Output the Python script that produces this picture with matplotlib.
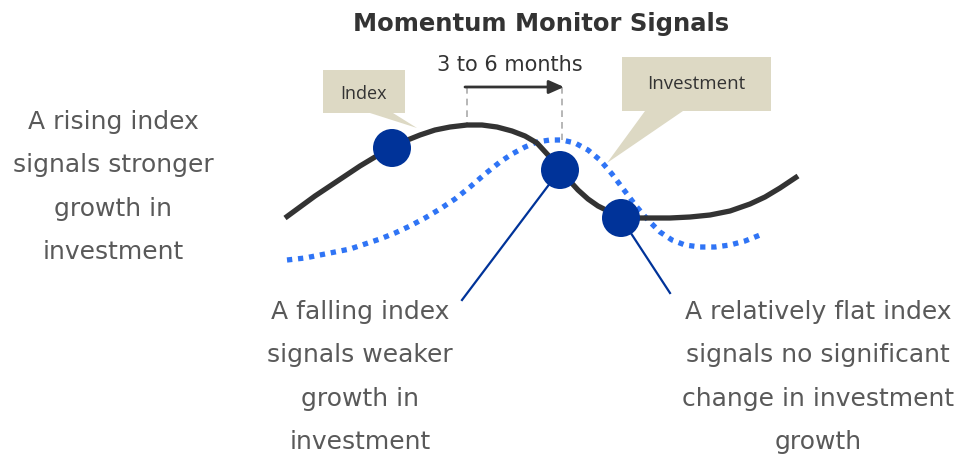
import matplotlib
matplotlib.use("Agg")
import matplotlib.pyplot as plt
from matplotlib.patches import Polygon, Circle

# curve shapes (pixel space, y down)
index_x = [285, 300, 315, 330, 345, 360, 375, 392, 405, 420, 435, 450, 467, 482, 497, 512, 525, 537,
           548, 558, 568, 578, 588, 598, 610, 621, 635, 650, 670, 690, 710, 730, 750, 765, 780, 798]
index_y = [218, 207, 196, 186, 176, 166, 157, 148, 141, 135, 130, 127, 125, 125, 127, 131, 136, 143,
           155, 167, 179, 190, 199, 206, 212, 216, 218, 218, 218, 217, 215, 211, 204, 197, 188, 176]
invest_x = [287, 305, 320, 335, 350, 365, 380, 395, 410, 425, 440, 455, 470, 485, 500, 512, 525, 537,
            550, 562, 575, 588, 600, 612, 624, 636, 648, 660, 672, 685, 700, 715, 730, 745, 760]
invest_y = [260, 258, 255, 252, 249, 244, 239, 233, 226, 218, 209, 199, 187, 174, 162, 154, 147, 142,
            140, 140, 143, 150, 160, 174, 190, 206, 220, 232, 240, 245, 247, 247, 245, 241, 235]

signal_x = [392, 560, 621]
signal_y = [148, 170, 218]

title = "Momentum Monitor Signals"
lag_label = "3 to 6 months"
left_text = "A rising index\nsignals stronger\ngrowth in\ninvestment"
mid_text = "A falling index\nsignals weaker\ngrowth in\ninvestment"
right_text = "A relatively flat index\nsignals no significant\nchange in investment\ngrowth"

GRAY = "#595959"
DARK = "#333333"
NAVY = "#003399"
BLUE = "#2F74F5"
BEIGE = "#DDD9C4"

fig = plt.figure(figsize=(9.61, 4.55), dpi=100)
ax = fig.add_axes([0, 0, 1, 1])
ax.set_xlim(0, 961)
ax.set_ylim(455, 0)
ax.axis("off")

ax.text(541, 24, title, ha="center", va="center", fontsize=17.5, fontweight="bold", color=DARK)

# callouts
ax.add_patch(Polygon([(323, 70), (405, 70), (405, 113), (393, 113), (417, 128), (370, 113), (323, 113)],
                     closed=True, facecolor=BEIGE, edgecolor="none", zorder=1))
ax.text(364, 94, "Index", ha="center", va="center", fontsize=13, color=DARK, family="Open Sans")
ax.add_patch(Polygon([(622, 57), (771, 57), (771, 111), (683, 111), (607, 163), (645, 111), (622, 111)],
                     closed=True, facecolor=BEIGE, edgecolor="none", zorder=1))
ax.text(696, 84, "Investment", ha="center", va="center", fontsize=13.5, color=DARK, family="Open Sans")

# lag marker
ax.plot([467, 467], [87, 125], color="#AAAAAA", lw=1.2, ls=(0, (4, 3)), zorder=1)
ax.plot([562, 562], [87, 140], color="#AAAAAA", lw=1.2, ls=(0, (4, 3)), zorder=1)
ax.annotate("", xy=(564, 87), xytext=(465, 87),
            arrowprops=dict(arrowstyle="-|>,head_length=0.9,head_width=0.4", color=DARK, lw=2, shrinkA=0, shrinkB=0))
ax.text(510, 65, lag_label, ha="center", va="center", fontsize=15, color=DARK)

# curves
ax.plot(invest_x, invest_y, color=BLUE, lw=3.8, ls=(0, (1, 1.1)), solid_capstyle="butt", zorder=2)
ax.plot(index_x, index_y, color=DARK, lw=3.8, solid_capstyle="butt", solid_joinstyle="round", zorder=3)

# pointer lines and dots
ax.plot([560, 462], [170, 300], color=NAVY, lw=1.6, zorder=4)
ax.plot([621, 670], [218, 293], color=NAVY, lw=1.6, zorder=4)
for x, y in zip(signal_x, signal_y):
    ax.add_patch(Circle((x, y), 19, facecolor=NAVY, edgecolor="none", zorder=5))

ax.text(113, 187, left_text, ha="center", va="center", fontsize=18, color=GRAY, linespacing=2.02)
ax.text(360, 377, mid_text, ha="center", va="center", fontsize=18, color=GRAY, linespacing=2.02)
ax.text(818, 377, right_text, ha="center", va="center", fontsize=18, color=GRAY, linespacing=2.02)

fig.savefig("out.png", dpi=100)
